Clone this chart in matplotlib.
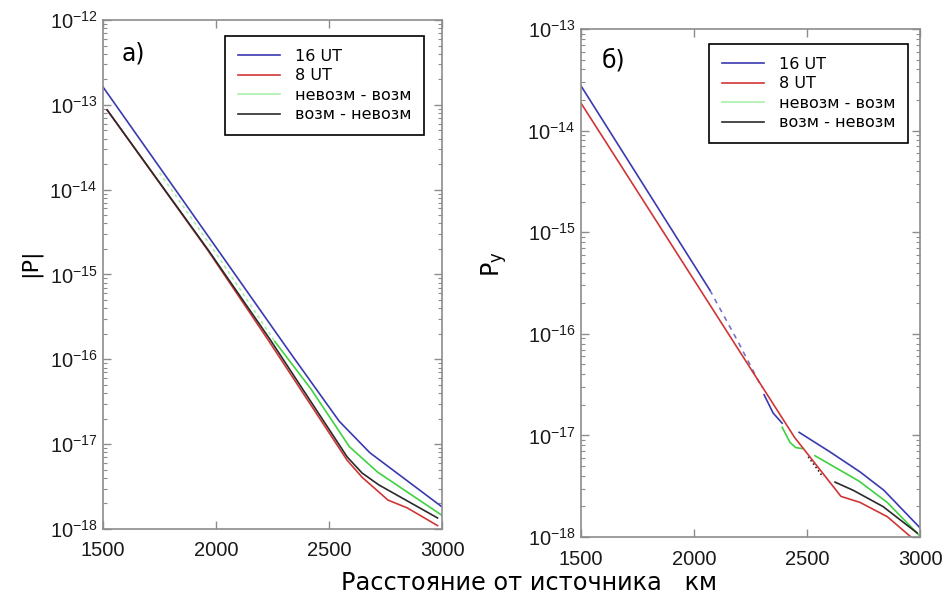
import numpy as np
import matplotlib
matplotlib.use("Agg")
import matplotlib.pyplot as plt
from matplotlib.lines import Line2D
from matplotlib.ticker import FixedLocator, NullFormatter

# ---- data (distance in km, log10 of value) ----
# panel a) |P|
a_blue_x = [1500, 2000, 2330, 2545, 2680, 3000]
a_blue_y = [-12.79, -14.68, -15.93, -16.73, -17.10, -17.74]
a_green_dash_x = [1750, 2000, 2260]
a_green_dash_y = [-13.80, -14.75, -15.79]
a_green_x = [2260, 2420, 2590, 2715, 3000]
a_green_y = [-15.79, -16.35, -17.03, -17.33, -17.84]
a_black_x = [1518, 1965, 2240, 2580, 2646, 2720, 2980]
a_black_y = [-13.06, -14.71, -15.77, -17.15, -17.34, -17.48, -17.87]
a_red_x = [1518, 1965, 2240, 2580, 2646, 2761, 2845, 2980]
a_red_y = [-13.06, -14.72, -15.81, -17.19, -17.39, -17.66, -17.75, -17.96]

# panel б) Py
b_blue_x = [1500, 2070]
b_blue_y = [-13.56, -15.57]
b_blue_dash_x = [2070, 2200, 2300]
b_blue_dash_y = [-15.57, -16.10, -16.53]
b_blue2_x = [2310, 2350, 2390]
b_blue2_y = [-16.60, -16.78, -16.88]
b_blue3_x = [2465, 2600, 2735, 2840, 3000]
b_blue3_y = [-16.97, -17.16, -17.36, -17.54, -17.91]
b_green1_x = [2390, 2425, 2450, 2480]
b_green1_y = [-16.92, -17.07, -17.12, -17.13]
b_green2_x = [2535, 2730, 2855, 2995]
b_green2_y = [-17.20, -17.45, -17.66, -17.98]
b_black_dot_x = [2505, 2571]
b_black_dot_y = [-17.21, -17.41]
b_black_x = [2624, 2704, 2836, 2987]
b_black_y = [-17.46, -17.54, -17.70, -17.96]
b_red_x = [1500, 2445, 2650, 2735, 2855, 2960]
b_red_y = [-13.73, -17.02, -17.60, -17.66, -17.80, -18.00]

legend_labels = ["16 UT", "8 UT", "невозм - возм", "возм - невозм"]

BLUE = "#3a3ab0"
RED = "#d03535"
GREEN = "#3fd23f"
PALE_GREEN = "#a8efa8"
BLACK = "#2a2a2a"
SPINE = "#8c8c8c"
LW = 1.2

plt.rcParams["font.family"] = ["DejaVu Sans"]
plt.rcParams["mathtext.fontset"] = "custom"
plt.rcParams["mathtext.rm"] = "Liberation Sans"
plt.rcParams["mathtext.it"] = "Liberation Sans"

fig = plt.figure(figsize=(9.48, 5.99), dpi=100)
ax1 = fig.add_axes([0.1087, 0.1169, 0.3576, 0.8497])
ax2 = fig.add_axes([0.6129, 0.1035, 0.3576, 0.8481])


def p(vals):
    return 10.0 ** np.array(vals)


ax1.plot(a_green_dash_x, p(a_green_dash_y), color=PALE_GREEN, lw=LW, ls=(0, (2, 2)))
ax1.plot(a_red_x, p(a_red_y), color=RED, lw=LW)
ax1.plot(a_black_x, p(a_black_y), color=BLACK, lw=LW)
ax1.plot(a_green_x, p(a_green_y), color=GREEN, lw=LW)
ax1.plot(a_blue_x, p(a_blue_y), color=BLUE, lw=LW)

ax2.plot(b_blue_x, p(b_blue_y), color=BLUE, lw=LW)
ax2.plot(b_blue_dash_x, p(b_blue_dash_y), color=BLUE, lw=LW, ls=(0, (3, 3)), alpha=0.7)
ax2.plot(b_blue2_x, p(b_blue2_y), color=BLUE, lw=LW)
ax2.plot(b_blue3_x, p(b_blue3_y), color=BLUE, lw=LW)
ax2.plot(b_green1_x, p(b_green1_y), color=GREEN, lw=LW)
ax2.plot(b_green2_x, p(b_green2_y), color=GREEN, lw=LW)
ax2.plot(b_black_dot_x, p(b_black_dot_y), color=BLACK, lw=LW, ls=(0, (1, 1.5)))
ax2.plot(b_black_x, p(b_black_y), color=BLACK, lw=LW)
ax2.plot(b_red_x, p(b_red_y), color=RED, lw=LW)

handles = [Line2D([], [], color=BLUE, lw=LW),
           Line2D([], [], color=RED, lw=LW),
           Line2D([], [], color=PALE_GREEN, lw=LW),
           Line2D([], [], color=BLACK, lw=LW)]

for ax, lo, hi, anchor, tag, tagpos in [
        (ax1, -18, -12, (0.947, 0.9686), "а)", (0.056, 0.935)),
        (ax2, -18, -13, (0.9646, 0.9705), "б)", (0.062, 0.937))]:
    ax.set_yscale("log")
    ax.set_xlim(1500, 3000)
    ax.set_ylim(10.0 ** lo, 10.0 ** hi)
    ax.set_xticks([1500, 2000, 2500, 3000])
    decades = np.arange(lo, hi + 1)
    ax.yaxis.set_major_locator(FixedLocator(10.0 ** decades))
    minors = [m * 10.0 ** d for d in decades[:-1] for m in range(2, 10)]
    ax.yaxis.set_minor_locator(FixedLocator(minors))
    ax.yaxis.set_minor_formatter(NullFormatter())
    ax.tick_params(which="both", direction="in", top=True, right=True, color=SPINE,
                   labelcolor="#1a1a1a")
    ax.tick_params(which="major", length=6, width=1)
    ax.tick_params(which="minor", length=3, width=0.8)
    ax.tick_params(axis="x", pad=9)
    ax.tick_params(axis="y", pad=4)
    for lab in ax.get_xticklabels() + ax.get_yticklabels():
        lab.set_fontfamily("Liberation Sans")
        lab.set_fontsize(14.5)
    for s in ax.spines.values():
        s.set_color(SPINE)
        s.set_linewidth(1.2)
    leg = ax.legend(handles, legend_labels, loc="upper right", bbox_to_anchor=anchor,
                    borderaxespad=0, fontsize=11.5, fancybox=False, framealpha=1,
                    edgecolor="black", handlelength=2.6, handletextpad=0.95,
                    labelspacing=0.28, borderpad=0.8)
    leg.get_frame().set_linewidth(1.2)
    ax.text(tagpos[0], tagpos[1], tag, transform=ax.transAxes, fontsize=17,
            ha="left", va="center")

fig.text(30 / 948, 1 - 263 / 599, "|P|", rotation=90, ha="center", va="center", fontsize=16)
fig.text(495 / 948, 1 - 264 / 599, r"P$_\mathregular{y}$", rotation=90, ha="center",
         va="center", fontsize=17)
fig.text(529 / 948, 1 - 583 / 599, "Расстояние от источника   км", ha="center",
         va="center", fontsize=17.3)

fig.savefig("out.png", dpi=100)
